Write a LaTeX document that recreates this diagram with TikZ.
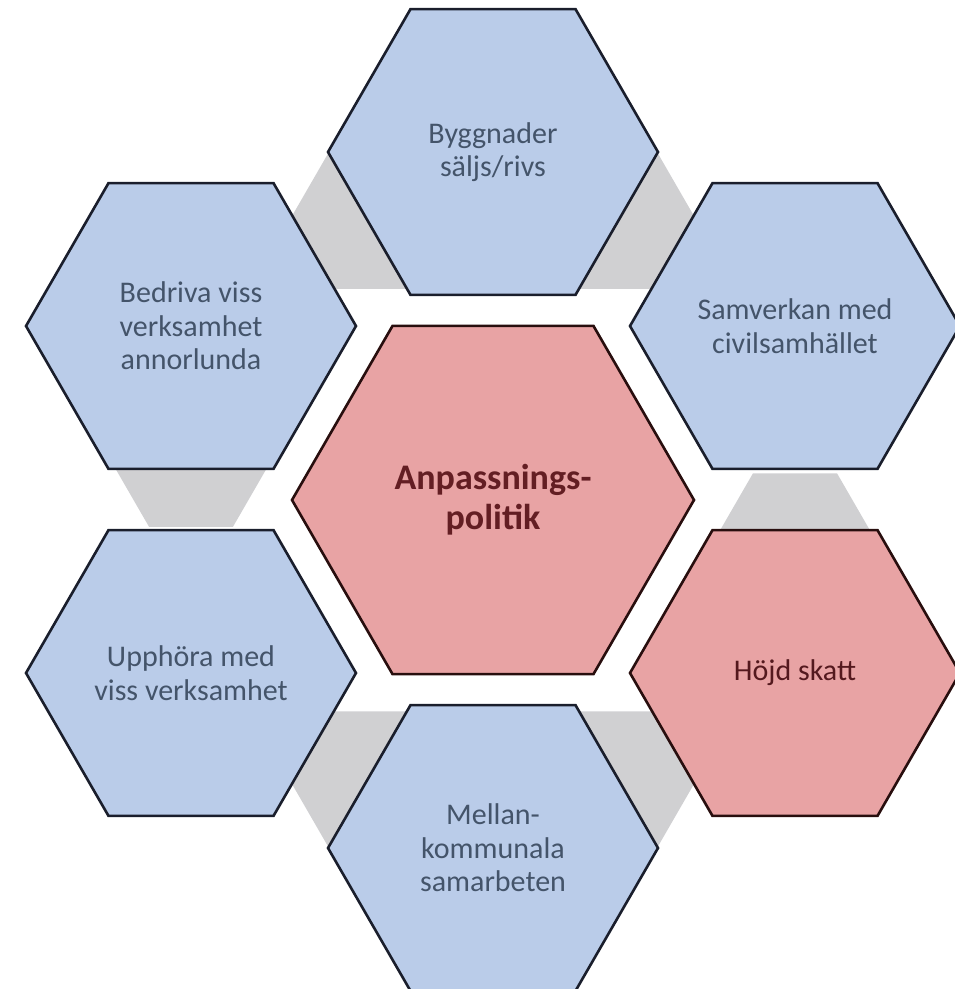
\documentclass[tikz,border=0pt]{standalone}
\usepackage{fontspec}
\setmainfont{Carlito}
\usetikzlibrary{shapes.geometric}

\definecolor{hexfill}{RGB}{186,204,233}
\definecolor{corefill}{RGB}{232,163,164}
\definecolor{linkgray}{RGB}{208,208,210}
\definecolor{bluetext}{RGB}{68,84,106}
\definecolor{redtext}{RGB}{99,30,35}
\definecolor{blueedge}{RGB}{26,30,44}
\definecolor{rededge}{RGB}{40,14,14}

\begin{document}
\begin{tikzpicture}[
        x=1pt, y=-1pt,
        hex/.style={regular polygon, regular polygon sides=6, inner sep=0pt, minimum size=330pt, align=center, line width=2.6pt, font=\fontsize{30}{33.5}\selectfont},
        hexblue/.style={hex, draw=blueedge, fill=hexfill, text=bluetext},
        hexred/.style={hex, draw=rededge, fill=corefill, text=redtext!85!black},
        hexcore/.style={hexred, minimum size=402pt, text=redtext, font=\fontsize{36}{40}\selectfont\bfseries},
        link/.style={regular polygon, regular polygon sides=6, inner sep=0pt, minimum size=168pt, fill=linkgray}
    ]
        \useasboundingbox (0,0) rectangle (955,989);
        % --- Grå länkar mellan yttre hexagoner ---
        \node[link] (lnkNO) at (610,216) {};
        \node[link] (lnkNV) at (376,216) {};
        \node[link] (lnkV) at (191,454) {};
        \node[link] (lnkSV) at (376,784) {};
        \node[link] (lnkSO) at (610,784) {};
        \node[link] (lnkO) at (795,546) {};
        % --- Yttre hexagoner ---
        \node[hexblue] (bygg) at (493,152) {Byggnader\\säljs/rivs};
        \node[hexblue] (samv) at (795,326) {Samverkan med\\civilsamhället};
        \node[hexred] (skatt) at (795,673) {Höjd skatt};
        \node[hexblue] (mellan) at (493,848) {Mellan-\\kommunala\\samarbeten};
        \node[hexblue] (upph) at (191,673) {Upphöra med\\viss verksamhet};
        \node[hexblue] (bedr) at (191,326) {Bedriva viss\\verksamhet\\annorlunda};
        % --- Kärna ---
        \node[hexcore] (anp) at (493,500) {Anpassnings-\\politik};
    \end{tikzpicture}
\end{document}
